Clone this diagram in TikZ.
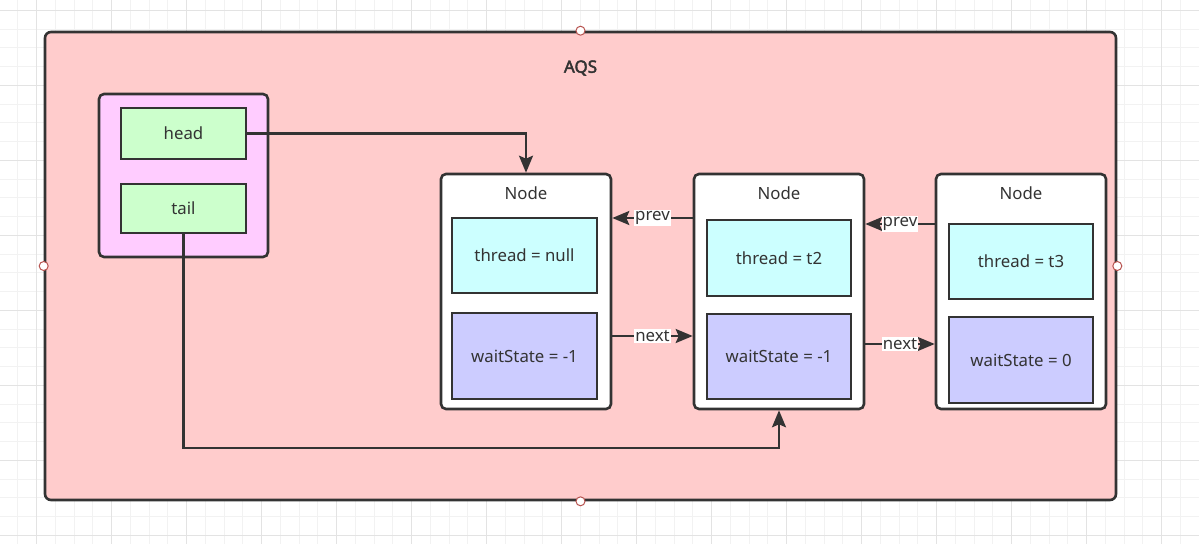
\documentclass[tikz,border=0pt]{standalone}
\usepackage{fontspec}
\setmainfont{Noto Sans}[AutoFakeBold=2.5]
\usetikzlibrary{arrows.meta}

\definecolor{ink}{HTML}{333333}
\definecolor{aqsfill}{HTML}{FFCCCC}
\definecolor{ptrfill}{HTML}{FFCCFF}
\definecolor{fieldfill}{HTML}{CCFFCC}
\definecolor{threadfill}{HTML}{CCFFFF}
\definecolor{statefill}{HTML}{CCCCFF}
\definecolor{gridminor}{HTML}{F2F2F2}
\definecolor{gridmajor}{HTML}{E3E3E3}
\definecolor{handle}{HTML}{B85450}

\tikzset{
  box/.style={draw=ink, line width=2.6pt, rectangle, inner sep=0pt,
              font=\fontsize{16.8}{20}\selectfont, text=ink},
  container/.style={box, rounded corners=5pt},
  conn/.style={draw=ink, line width=2.3pt,
               -{Stealth[length=17pt,width=14pt,inset=3pt]}},
  lbl/.style={fill=white, inner sep=1pt, text=ink,
              font=\fontsize{16.8}{20}\selectfont},
  handledot/.style={circle, draw=handle, fill=white, line width=1pt,
                    minimum size=9pt, inner sep=0pt},
  caption/.style={text=ink, font=\fontsize{16.8}{20}\selectfont}
}

\begin{document}
\begin{tikzpicture}[x=1pt, y=-1pt]
\useasboundingbox (0,0) rectangle (1199,544);

% background grid
\begin{scope}
  \clip (0,0) rectangle (1199,544);
  \fill[white] (0,0) rectangle (1199,544);
  \foreach \i in {0,...,64}
    \draw[gridminor, line width=1pt] (-0.8+18.75*\i,0) -- ++(0,544);
  \foreach \i in {0,...,29}
    \draw[gridminor, line width=1pt] (0,10.4+18.75*\i) -- ++(1199,0);
  \foreach \i in {0,...,15}
    \draw[gridmajor, line width=1pt] (36.7+75*\i,0) -- ++(0,544);
  \foreach \i in {0,...,7}
    \draw[gridmajor, line width=1pt] (0,10.4+75*\i) -- ++(1199,0);
\end{scope}

% AQS container
\node[container, fill=aqsfill, rounded corners=6pt,
      minimum width=1071pt, minimum height=468pt] (aqs) at (580.5,266) {};
\node[text=ink, font=\bfseries\fontsize{17}{20}\selectfont] (aqslabel) at (580.5,68) {AQS};

% head / tail pointers
\node[container, fill=ptrfill, minimum width=169pt, minimum height=163pt] (ptrs) at (183.5,175.5) {};
\node[box, fill=fieldfill, minimum width=125pt, minimum height=51pt] (head) at (183.5,133.5) {head};
\node[box, fill=fieldfill, minimum width=125pt, minimum height=49pt] (tail) at (183.5,208.5) {tail};

% queue nodes
\node[container, fill=white, minimum width=170pt, minimum height=235pt] (n1) at (526,291.5) {};
\node[caption] (n1cap) at (526,193) {Node};
\node[box, fill=threadfill, minimum width=145pt, minimum height=75pt] (t1) at (524.5,255.5) {thread = null};
\node[box, fill=statefill, minimum width=145pt, minimum height=86pt] (w1) at (524.5,356) {waitState = -1};

\node[container, fill=white, minimum width=170pt, minimum height=235pt] (n2) at (779,291.5) {};
\node[caption] (n2cap) at (779,193) {Node};
\node[box, fill=threadfill, minimum width=144pt, minimum height=76pt] (t2) at (779,258) {thread = t2};
\node[box, fill=statefill, minimum width=144pt, minimum height=85pt] (w2) at (779,356.5) {waitState = -1};

\node[container, fill=white, minimum width=170pt, minimum height=235pt] (n3) at (1021,291.5) {};
\node[caption] (n3cap) at (1021,193) {Node};
\node[box, fill=threadfill, minimum width=144pt, minimum height=75pt] (t3) at (1021,261.5) {thread = t3};
\node[box, fill=statefill, minimum width=144pt, minimum height=86pt] (w3) at (1021,360) {waitState = 0};

% connection handles on the container
\node[handledot] (hn) at (aqs.north) {};
\node[handledot] (hs) at (aqs.south) {};
\node[handledot] (hw) at (aqs.west) {};
\node[handledot] (he) at (aqs.east) {};

% levels for the link arrows
\coordinate (prevA) at (0,218);
\coordinate (nextA) at (0,336);
\coordinate (prevB) at (0,224);
\coordinate (nextB) at (0,344);
\coordinate (tailbend) at (779,448);

% head and tail links
\draw[conn] (head.east) -| (n1.north);
\draw[conn] (tail.south) |- (tailbend) -- (n2.south);

% prev / next links
\draw[conn] (n2.west |- prevA) -- (n1.east |- prevA) node[lbl, midway] {prev};
\draw[conn] (n1.east |- nextA) -- (n2.west |- nextA) node[lbl, midway] {next};
\draw[conn] (n3.west |- prevB) -- (n2.east |- prevB) node[lbl, midway] {prev};
\draw[conn] (n2.east |- nextB) -- (n3.west |- nextB) node[lbl, midway] {next};
\end{tikzpicture}
\end{document}
